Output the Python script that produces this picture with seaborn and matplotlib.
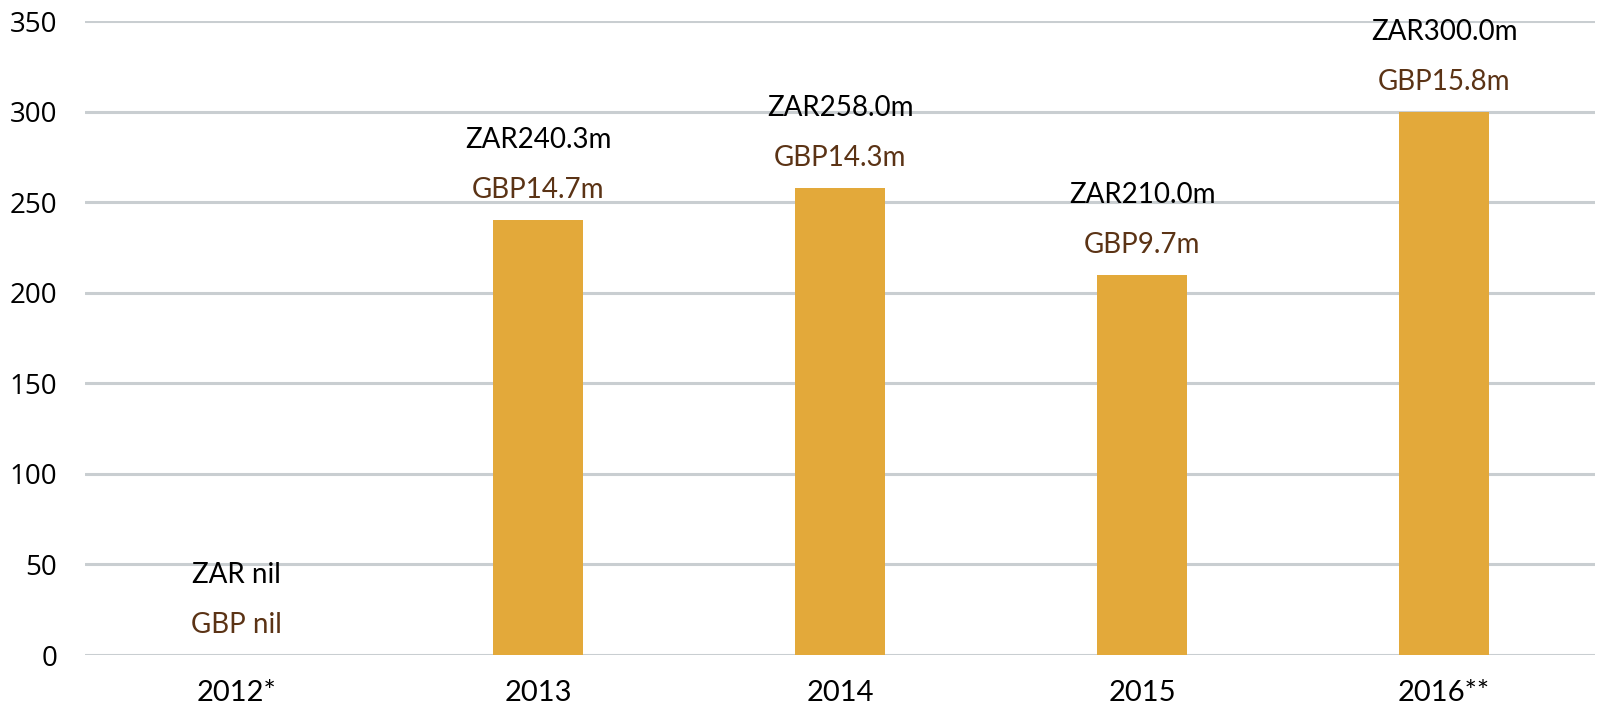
import matplotlib
matplotlib.use("Agg")
import matplotlib.pyplot as plt
import seaborn as sns
import pandas as pd

categories = ["2012*", "2013", "2014", "2015", "2016**"]
zar_values = [0.0, 240.3, 258.0, 210.0, 300.0]
zar_labels = ["ZAR nil", "ZAR240.3m", "ZAR258.0m", "ZAR210.0m", "ZAR300.0m"]
gbp_labels = ["GBP nil", "GBP14.7m", "GBP14.3m", "GBP9.7m", "GBP15.8m"]
y_ticks = [0, 50, 100, 150, 200, 250, 300, 350]

sns.set_theme(style="white")
plt.rcParams["font.family"] = ["Lato", "DejaVu Sans"]

df = pd.DataFrame({"year": categories, "zar": zar_values})

fig = plt.figure(figsize=(16.04, 7.08), dpi=100)
ax = fig.add_axes([85 / 1604, 53 / 708, 1510 / 1604, 634 / 708])

sns.barplot(data=df, x="year", y="zar", color="#E3A93A", saturation=1,
            width=0.3, ax=ax, zorder=3, edgecolor="none", linewidth=0)

ax.set_ylim(0, 350)
ax.set_yticks(y_ticks)
ax.yaxis.grid(True, color="#C9CED1", linewidth=2.2, zorder=0)
ax.set_axisbelow(True)
for s in ax.spines.values():
    s.set_visible(False)
ax.set_xlabel("")
ax.set_ylabel("")
ax.tick_params(axis="y", length=0, pad=20, labelsize=20, labelcolor="#000000")
ax.tick_params(axis="x", length=0, pad=18, labelsize=21, labelcolor="#000000")
for lbl in ax.get_yticklabels():
    lbl.set_fontfamily(["Open Sans", "DejaVu Sans"])

for i, (v, zl, gl) in enumerate(zip(zar_values, zar_labels, gbp_labels)):
    ax.annotate(gl, xy=(i, v), xytext=(0, 12), textcoords="offset points",
                ha="center", va="bottom", fontsize=20, color="#5B3315")
    ax.annotate(zl, xy=(i, v), xytext=(0, 48), textcoords="offset points",
                ha="center", va="bottom", fontsize=20, color="#000000")

fig.savefig("out.png", dpi=100)
